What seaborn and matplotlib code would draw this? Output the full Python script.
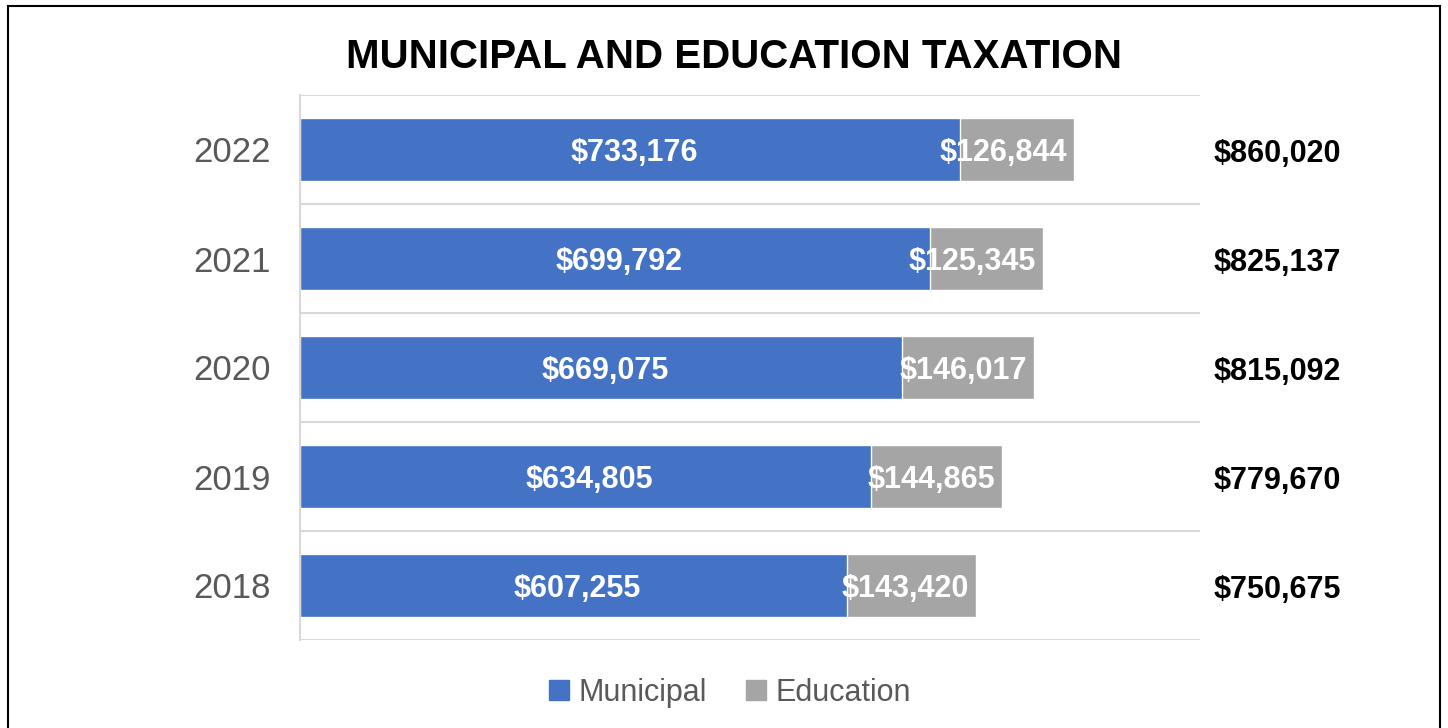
import numpy as np
import pandas as pd
import seaborn as sns
import matplotlib.pyplot as plt
from matplotlib.patches import Patch, Rectangle


years = ['2022', '2021', '2020', '2019', '2018']
municipal = [733176, 699792, 669075, 634805, 607255]
education = [126844, 125345, 146017, 144865, 143420]

BLUE = '#4472C4'
GREY = '#A5A5A5'
TXT = '#595959'
GRID = '#D9D9D9'


def main():
    df = pd.DataFrame({'year': years, 'Municipal': municipal, 'Education': education})
    df['total'] = df['Municipal'] + df['Education']

    sns.set_theme(style='white')
    plt.rcParams['font.family'] = ['Liberation Sans', 'DejaVu Sans']

    fig = plt.figure(figsize=(14.48, 7.28), dpi=100)
    ax = fig.add_axes([300 / 1448, 1 - 640 / 728, 900 / 1448, 545 / 728])

    # stacked bars: draw the total in grey, municipal over it in blue
    sns.barplot(data=df, x='total', y='year', order=years, orient='h',
                color=GREY, width=0.57, errorbar=None, saturation=1, ax=ax)
    sns.barplot(data=df, x='Municipal', y='year', order=years, orient='h',
                color=BLUE, width=0.57, errorbar=None, saturation=1, ax=ax)

    ax.set_xlim(0, 1000000)
    ax.set_ylim(4.5, -0.5)
    ax.set_xticks([])
    ax.set_xlabel('')
    ax.set_ylabel('')
    ax.set_yticks(np.arange(-0.5, 5), minor=True)
    ax.grid(which='minor', axis='y', color=GRID, linewidth=1.5)
    ax.tick_params(axis='y', which='both', length=0, pad=21)
    ax.tick_params(axis='y', which='major', labelsize=25, labelcolor=TXT)
    for s in ['top', 'right', 'bottom']:
        ax.spines[s].set_visible(False)
    ax.spines['left'].set_color(GRID)
    ax.spines['left'].set_linewidth(1.5)

    for i, row in df.iterrows():
        ax.annotate(f"${row['Municipal']:,.0f}", xy=(row['Municipal'] / 2, i),
                    xytext=(3, -2.5), textcoords='offset points', color='white',
                    fontsize=22, fontweight='bold', ha='center', va='center')
        ax.annotate(f"${row['Education']:,.0f}", xy=(row['total'], i),
                    xytext=(-5, -2.5), textcoords='offset points', color='white',
                    fontsize=22, fontweight='bold', ha='right', va='center')
        ax.annotate(f"${row['total']:,.0f}", xy=((1277 - 300) / 900, i),
                    xycoords=ax.get_yaxis_transform(), xytext=(0, -3),
                    textcoords='offset points', color='black',
                    fontsize=22, fontweight='bold', ha='center', va='center',
                    annotation_clip=False)

    fig.text(734 / 1448, 1 - 57 / 728, 'MUNICIPAL AND EDUCATION TAXATION',
             fontsize=29, fontweight='bold', ha='center', va='center', color='black')

    handles = [Patch(color=BLUE, label='Municipal'), Patch(color=GREY, label='Education')]
    fig.legend(handles=handles, loc='center', bbox_to_anchor=(730 / 1448, 1 - 693 / 728),
               ncol=2, frameon=False, fontsize=22, labelcolor=TXT,
               handlelength=0.65, handleheight=0.65, handletextpad=0.3, columnspacing=1.3)

    fig.patches.append(Rectangle((8 / 1448, -0.1), 1432 / 1448, 1.1 - 6 / 728,
                                 transform=fig.transFigure, fill=False,
                                 edgecolor='black', linewidth=1.5))

    fig.savefig('out.png', dpi=100)


if __name__ == '__main__':
    main()
